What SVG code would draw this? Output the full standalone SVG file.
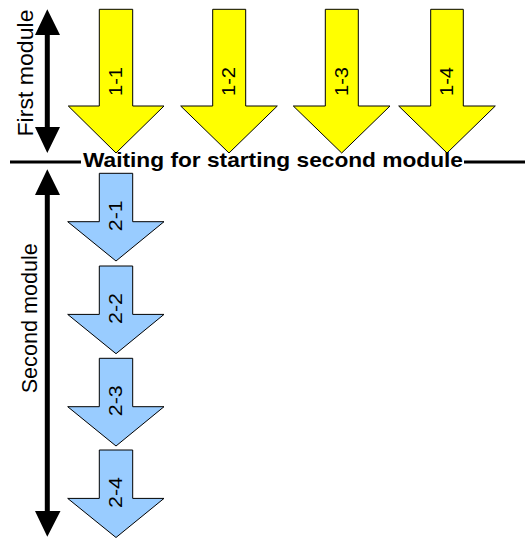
<svg xmlns="http://www.w3.org/2000/svg" width="525" height="538" viewBox="0 0 525 538">
<style>
.y{fill:#ffff00;stroke:#000;stroke-width:1}
.b{fill:#99ccff;stroke:#000;stroke-width:1}
.lbl{font-family:"Liberation Sans",Arial,sans-serif;font-size:18px;fill:#000;text-anchor:middle}
.big{font-family:"Liberation Sans",Arial,sans-serif;fill:#000}
.dbl{fill:#000;stroke:none}
.ln{stroke:#000;stroke-width:3;fill:none}
</style>
<g id="connectors">
<line class="ln" x1="10" y1="162" x2="81" y2="162"/>
<line class="ln" x1="464" y1="162" x2="525" y2="162"/>
<path class="dbl" d="M47.3,9.3 L60,35 L49.8,35 L49.8,127 L60,127 L47.3,153 L35,127 L44.8,127 L44.8,35 L35,35 Z"/>
<path class="dbl" d="M47.3,169.3 L60,195 L49.8,195 L49.8,511 L60.5,511 L47.3,536.7 L35,511 L44.8,511 L44.8,195 L35,195 Z"/>
</g>
<g id="label-first">
<text class="big" font-size="22" text-anchor="middle" textLength="127" lengthAdjust="spacingAndGlyphs" transform="translate(33.3,73) rotate(-90)">First module</text>
</g>
<g id="label-second">
<text class="big" font-size="21.5" text-anchor="middle" textLength="150" lengthAdjust="spacingAndGlyphs" transform="translate(36.7,318.3) rotate(-90)">Second module</text>
</g>
<g id="label-waiting">
<text class="big" font-size="21" font-weight="bold" x="83" y="167.3" textLength="380" lengthAdjust="spacingAndGlyphs">Waiting for starting second module</text>
</g>
<g id="n1-1">
<path class="y" d="M99.3,9.3 H132.7 V106 H164 L116,153 L68.3,106 H99.3 Z"/>
<text class="lbl" textLength="29" lengthAdjust="spacingAndGlyphs" transform="translate(122,81.5) rotate(-90)">1-1</text>
</g>
<g id="n1-2">
<path class="y" d="M212.7,9.3 H245.7 V106 H277.3 L229,153 L180.7,106 H212.7 Z"/>
<text class="lbl" textLength="29" lengthAdjust="spacingAndGlyphs" transform="translate(235,81.5) rotate(-90)">1-2</text>
</g>
<g id="n1-3">
<path class="y" d="M325.3,9.3 H358.3 V106 H390 L341.7,153 L293.3,106 H325.3 Z"/>
<text class="lbl" textLength="29" lengthAdjust="spacingAndGlyphs" transform="translate(347.6,81.5) rotate(-90)">1-3</text>
</g>
<g id="n1-4">
<path class="y" d="M430.7,9.3 H463.3 V106 H495.3 L447,153 L398.7,106 H430.7 Z"/>
<text class="lbl" textLength="29" lengthAdjust="spacingAndGlyphs" transform="translate(452.8,81.5) rotate(-90)">1-4</text>
</g>
<g id="n2-1">
<path class="b" d="M99.3,173.3 H132.7 V221.7 H164 L116,261 L67.7,221.7 H99.3 Z"/>
<text class="lbl" textLength="31" lengthAdjust="spacingAndGlyphs" transform="translate(121.8,215.8) rotate(-90)">2-1</text>
</g>
<g id="n2-2">
<path class="b" d="M99.3,266 H132.7 V314.4 H164 L116,353.7 L67.7,314.4 H99.3 Z"/>
<text class="lbl" textLength="31" lengthAdjust="spacingAndGlyphs" transform="translate(121.8,308.5) rotate(-90)">2-2</text>
</g>
<g id="n2-3">
<path class="b" d="M99.3,358.3 H132.7 V406.7 H164 L116,446 L67.7,406.7 H99.3 Z"/>
<text class="lbl" textLength="31" lengthAdjust="spacingAndGlyphs" transform="translate(121.8,400.8) rotate(-90)">2-3</text>
</g>
<g id="n2-4">
<path class="b" d="M99.3,450 H132.7 V498.4 H164 L116,537.5 L67.7,498.4 H99.3 Z"/>
<text class="lbl" textLength="31" lengthAdjust="spacingAndGlyphs" transform="translate(121.8,492.5) rotate(-90)">2-4</text>
</g>
</svg>
